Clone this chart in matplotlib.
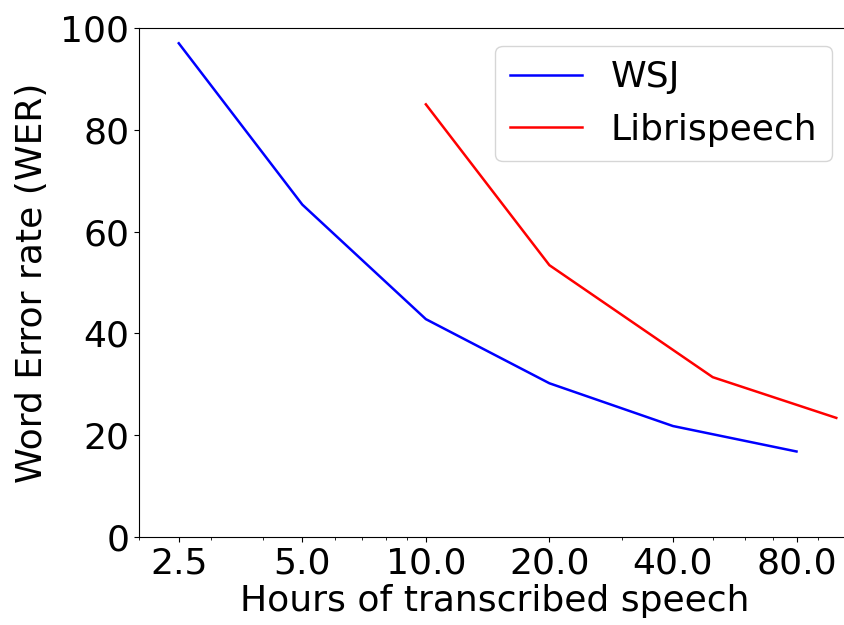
# Word error rate against amount of transcribed training speech,
# for the WSJ and Librispeech corpora. Log x axis with doubling ticks.
from matplotlib import pyplot as plt
from matplotlib.ticker import NullFormatter

# Hours of speech and WER.
wsj_hours = [2.5, 5, 10, 20, 40, 80]
wsj_wer = [97, 65.3, 42.8, 30.2, 21.8, 16.8]
libri_hours = [10, 20, 50, 100]
libri_wer = [85, 53.4, 31.4, 23.4]
tick_hours = [2.5, 5, 10, 20, 40, 80]
y_ticks = [0, 20, 40, 60, 80, 100]

font_size = 26

fig = plt.figure(figsize=(8.44, 6.25), dpi=100)
# Axes runs a little past the right edge of the figure, like the cropped original.
ax = fig.add_axes([139 / 844, 88 / 625, 711 / 844, 509 / 625])

ax.plot(wsj_hours, wsj_wer, color='blue', lw=1.8, label='WSJ')
ax.plot(libri_hours, libri_wer, color='red', lw=1.8, label='Librispeech')

ax.set_xscale('log')
ax.set_xlim(2.0, 108)
ax.set_ylim(0, 100)
ax.set_xticks(tick_hours)
ax.set_xticklabels([str(float(h)) for h in tick_hours])
ax.xaxis.set_minor_formatter(NullFormatter())
ax.set_yticks(y_ticks)

ax.tick_params(labelsize=font_size)
ax.set_xlabel("Hours of transcribed speech", fontsize=font_size, labelpad=2)
ax.set_ylabel("Word Error rate (WER)", fontsize=font_size, labelpad=8)
ax.legend(loc='upper right', fontsize=font_size)

plt.savefig("out.png", dpi=100)
